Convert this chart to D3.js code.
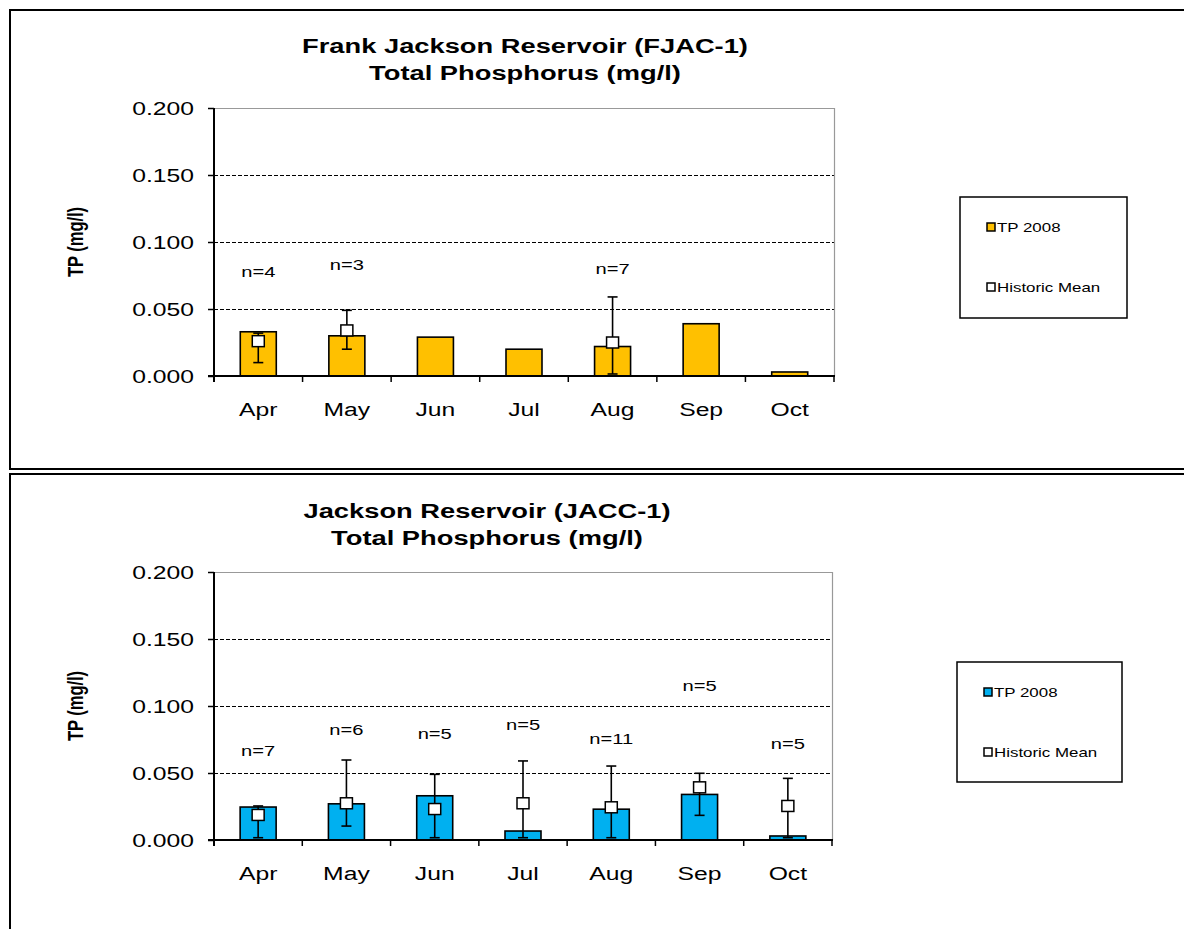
<!DOCTYPE html>
<html>
<head>
<meta charset="utf-8">
<script src="https://cdn.jsdelivr.net/npm/d3@7"></script>
<style>
  html, body { margin: 0; padding: 0; background: #fff; }
  svg { display: block; font-family: "Liberation Sans", Arial, sans-serif; }
</style>
</head>
<body>
<svg id="chart" width="1184" height="929"></svg>
<script>
// ---------- data ----------
const months = ["Apr", "May", "Jun", "Jul", "Aug", "Sep", "Oct"];
const yTicks = [0, 0.05, 0.10, 0.15, 0.20];

// Frank Jackson Reservoir (FJAC-1)
const fjacTitle = ["Frank Jackson Reservoir (FJAC-1)", "Total Phosphorus (mg/l)"];
const fjacTP2008 = [0.033, 0.030, 0.029, 0.020, 0.022, 0.039, 0.003];
const fjacMean   = [0.026, 0.034, null, null, 0.025, null, null];
const fjacHigh   = [0.032, 0.049, null, null, 0.059, null, null];
const fjacLow    = [0.010, 0.020, null, null, 0.0015, null, null];
const fjacN      = ["n=4", "n=3", null, null, "n=7", null, null];
const fjacNAt    = [0.078, 0.083, null, null, 0.0805, null, null];

// Jackson Reservoir (JACC-1)
const jaccTitle = ["Jackson Reservoir (JACC-1)", "Total Phosphorus (mg/l)"];
const jaccTP2008 = [0.0246, 0.027, 0.033, 0.0067, 0.023, 0.034, 0.003];
const jaccMean   = [0.0187, 0.0274, 0.0231, 0.0274, 0.0244, 0.0393, 0.0254];
const jaccHigh   = [0.0254, 0.0597, 0.049, 0.059, 0.0552, 0.0498, 0.046];
const jaccLow    = [0.0017, 0.0104, 0.0017, 0.0017, 0.0017, 0.0184, 0.0017];
const jaccN      = ["n=7", "n=6", "n=5", "n=5", "n=11", "n=5", "n=5"];
const jaccNAt    = [0.0666, 0.0821, 0.0796, 0.0858, 0.0759, 0.1149, 0.0722];

const legendLabels = ["TP 2008", "Historic Mean"];

// ---------- drawing ----------
const svg = d3.select("#chart");
const SX = 1.3; // horizontal stretch of the source rendering
const crisp = v => Math.round(v) + 0.5;

function txt(g, x, y, str, o = {}) {
  return g.append("text")
    .attr("transform", `translate(${x},${y}) scale(${SX},1)` + (o.rot ? " rotate(-90)" : ""))
    .attr("text-anchor", o.anchor || "middle")
    .attr("dy", o.dy || "0.35em")
    .attr("font-size", o.size || 16)
    .attr("font-weight", o.bold ? "bold" : "normal")
    .attr("fill", "#000")
    .text(str);
}

function panel(cfg) {
  const g = svg.append("g");
  // outer frame (extends past window edge)
  g.append("rect").attr("x", cfg.frame[0]).attr("y", cfg.frame[1])
    .attr("width", cfg.frame[2]).attr("height", cfg.frame[3])
    .attr("fill", "none").attr("stroke", "#000").attr("stroke-width", 2);

  const x = d3.scaleBand().domain(months).range([cfg.left, cfg.right]).padding(0);
  const y = d3.scaleLinear().domain([0, 0.2]).range([cfg.bottom, cfg.top]);

  // titles
  txt(g, cfg.titleX, cfg.titleY, cfg.title[0], { size: 21, bold: true });
  txt(g, cfg.titleX, cfg.titleY + 27, cfg.title[1], { size: 21, bold: true });

  // y label
  txt(g, 75, (cfg.top + cfg.bottom) / 2, "TP (mg/l)", { size: 16.5, bold: true, rot: true });

  // gridlines
  g.selectAll(".grid").data(yTicks.filter(d => d > 0 && d < 0.2)).enter().append("line")
    .attr("x1", cfg.left).attr("x2", cfg.right)
    .attr("y1", d => crisp(y(d))).attr("y2", d => crisp(y(d)))
    .attr("stroke", "#000").attr("stroke-width", 1).attr("stroke-dasharray", "4,2");
  // plot border top & right (grey)
  g.append("line").attr("x1", cfg.left).attr("x2", cfg.right)
    .attr("y1", crisp(y(0.2))).attr("y2", crisp(y(0.2))).attr("stroke", "#999").attr("stroke-width", 1);
  g.append("line").attr("x1", crisp(cfg.right)).attr("x2", crisp(cfg.right))
    .attr("y1", y(0.2)).attr("y2", y(0)).attr("stroke", "#999").attr("stroke-width", 1.2);

  // bars
  const bw = 36;
  g.selectAll(".bar").data(months).enter().append("rect")
    .attr("x", (m) => x(m) + x.bandwidth() / 2 - bw / 2)
    .attr("width", bw)
    .attr("y", (m, i) => y(cfg.tp[i]))
    .attr("height", (m, i) => y(0) - y(cfg.tp[i]))
    .attr("fill", cfg.color).attr("stroke", "#000").attr("stroke-width", 1.6);

  // error bars
  const idx = months.map((m, i) => i).filter(i => cfg.mean[i] != null);
  idx.forEach(i => {
    const cx = x(months[i]) + x.bandwidth() / 2;
    g.append("line").attr("x1", cx).attr("x2", cx)
      .attr("y1", y(cfg.high[i])).attr("y2", y(cfg.low[i]))
      .attr("stroke", "#000").attr("stroke-width", 1.6);
    [cfg.high[i], cfg.low[i]].forEach(v => {
      g.append("line").attr("x1", cx - 5).attr("x2", cx + 5)
        .attr("y1", y(v)).attr("y2", y(v))
        .attr("stroke", "#000").attr("stroke-width", 1.6);
    });
    g.append("rect").attr("x", cx - 6).attr("y", y(cfg.mean[i]) - 5.5)
      .attr("width", 12).attr("height", 11)
      .attr("fill", "#fff").attr("stroke", "#000").attr("stroke-width", 1.5);
  });

  // n labels
  months.forEach((m, i) => {
    if (cfg.n[i]) txt(g, x(m) + x.bandwidth() / 2, y(cfg.nAt[i]), cfg.n[i], { size: 15.5 });
  });

  // y axis
  const ya = d3.axisLeft(y).tickValues(yTicks).tickSize(6).tickFormat(d3.format(".3f"));
  const yg = g.append("g").attr("transform", `translate(${cfg.left},0)`).call(ya);
  yg.select(".domain").remove();
  yg.selectAll(".tick line").attr("stroke", "#000").attr("stroke-width", 1.5);
  yg.selectAll(".tick text").remove();
  yTicks.forEach(t => txt(g, cfg.left - 20, y(t), d3.format(".3f")(t), { size: 19, anchor: "end" }));
  g.append("line").attr("x1", cfg.left).attr("x2", cfg.left)
    .attr("y1", y(0.2)).attr("y2", y(0) + 6).attr("stroke", "#000").attr("stroke-width", 2);

  // x axis
  g.append("line").attr("x1", cfg.left - 6).attr("x2", cfg.right + 1)
    .attr("y1", y(0)).attr("y2", y(0)).attr("stroke", "#000").attr("stroke-width", 2);
  const bounds = months.map(m => x(m)).concat([x(months[months.length - 1]) + x.bandwidth()]);
  g.selectAll(".xt").data(bounds.slice(1)).enter().append("line")
    .attr("x1", d => d).attr("x2", d => d)
    .attr("y1", y(0)).attr("y2", y(0) + 6)
    .attr("stroke", "#000").attr("stroke-width", 1.5);
  months.forEach(m => txt(g, x(m) + x.bandwidth() / 2, y(0) + 40, m, { size: 19, dy: "0" }));

  // legend
  const L = cfg.legend;
  g.append("rect").attr("x", L[0]).attr("y", L[1]).attr("width", L[2]).attr("height", L[3])
    .attr("fill", "#fff").attr("stroke", "#000").attr("stroke-width", 1.5);
  const ly = [L[1] + 30, L[1] + 90];
  const lfill = [cfg.color, "#fff"];
  legendLabels.forEach((lab, k) => {
    g.append("rect").attr("x", L[0] + 27).attr("y", ly[k] - 4).attr("width", 8).attr("height", 8)
      .attr("fill", lfill[k]).attr("stroke", "#000").attr("stroke-width", 1.5);
    txt(g, L[0] + 37, ly[k], lab, { size: 13, anchor: "start" });
  });
}

panel({
  frame: [10, 10, 1200, 459],
  left: 214, right: 834, top: 108, bottom: 376,
  title: fjacTitle, titleX: 525, titleY: 46,
  tp: fjacTP2008, mean: fjacMean, high: fjacHigh, low: fjacLow, n: fjacN, nAt: fjacNAt,
  color: "#FFC000",
  legend: [960, 197, 167, 121]
});

panel({
  frame: [10, 474, 1200, 500],
  left: 214, right: 832, top: 572, bottom: 840,
  title: jaccTitle, titleX: 487, titleY: 511,
  tp: jaccTP2008, mean: jaccMean, high: jaccHigh, low: jaccLow, n: jaccN, nAt: jaccNAt,
  color: "#00B0F0",
  legend: [957, 662, 165, 120]
});
</script>
</body>
</html>
